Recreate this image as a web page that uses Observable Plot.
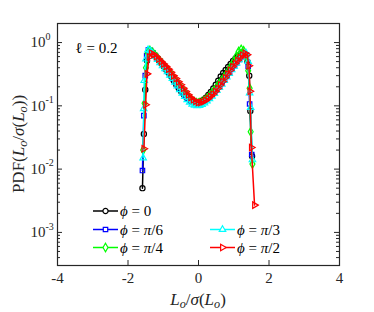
<!DOCTYPE html>
<html><head><meta charset="utf-8">
<script src="https://cdn.jsdelivr.net/npm/d3@7"></script>
<script src="https://cdn.jsdelivr.net/npm/@observablehq/plot@0.6"></script>
<style>
body{margin:0;background:#fff}
#chart{position:relative;width:374px;height:312px}
</style>
</head><body><div id="chart"></div>
<script>
// ---- data ----
const xTicks = [-4, -2, 0, 2, 4];
const yMajor = [1e-3, 1e-2, 1e-1, 1];
const yExp = ["-3", "-2", "-1", "0"];

const phi0X = [-1.59,-1.55,-1.51,-1.46,-1.40,-1.33,-1.26,-1.19,-1.12,-1.05,-0.98,-0.91,-0.84,-0.77,-0.70,-0.63,-0.56,-0.49,-0.42,-0.35,-0.28,-0.21,-0.14,-0.07,0.00,0.07,0.14,0.21,0.28,0.35,0.42,0.49,0.56,0.63,0.70,0.77,0.84,0.91,0.98,1.05,1.12,1.19,1.26,1.33,1.39,1.44,1.47,1.52];
const phi0Y = [0.005,0.036,0.18,0.52,0.72,0.70,0.64,0.58,0.52,0.47,0.42,0.37,0.33,0.29,0.25,0.215,0.19,0.168,0.152,0.138,0.127,0.119,0.114,0.112,0.113,0.118,0.125,0.135,0.148,0.165,0.188,0.215,0.25,0.29,0.33,0.37,0.41,0.46,0.51,0.56,0.61,0.66,0.69,0.64,0.5,0.3,0.083,0.016];

const phi6X = [-1.59,-1.55,-1.51,-1.47,-1.42,-1.36,-1.29,-1.22,-1.15,-1.08,-1.01,-0.94,-0.87,-0.80,-0.73,-0.66,-0.59,-0.52,-0.45,-0.38,-0.31,-0.24,-0.17,-0.10,-0.03,0.04,0.11,0.18,0.25,0.32,0.39,0.46,0.53,0.60,0.67,0.74,0.81,0.88,0.95,1.02,1.09,1.16,1.23,1.30,1.36,1.41,1.45,1.51];
const phi6Y = [0.0095,0.07,0.30,0.62,0.77,0.75,0.68,0.61,0.55,0.49,0.44,0.39,0.35,0.31,0.27,0.24,0.21,0.185,0.165,0.148,0.133,0.122,0.115,0.11,0.108,0.109,0.113,0.12,0.128,0.14,0.153,0.17,0.19,0.21,0.235,0.265,0.30,0.34,0.38,0.43,0.48,0.54,0.60,0.66,0.64,0.42,0.107,0.017];

const phi4X = [-1.57,-1.53,-1.49,-1.44,-1.38,-1.31,-1.24,-1.17,-1.10,-1.03,-0.96,-0.89,-0.82,-0.75,-0.68,-0.61,-0.54,-0.47,-0.40,-0.33,-0.26,-0.19,-0.12,-0.05,0.02,0.09,0.16,0.23,0.30,0.37,0.44,0.51,0.58,0.65,0.72,0.79,0.86,0.93,1.00,1.07,1.14,1.21,1.28,1.35,1.41,1.45,1.48,1.53];
const phi4Y = [0.02,0.11,0.40,0.68,0.75,0.70,0.64,0.58,0.52,0.47,0.42,0.38,0.34,0.30,0.265,0.235,0.21,0.185,0.165,0.148,0.134,0.123,0.116,0.112,0.112,0.115,0.121,0.13,0.142,0.157,0.175,0.197,0.222,0.25,0.28,0.32,0.37,0.43,0.50,0.60,0.72,0.78,0.74,0.6,0.36,0.19,0.039,0.012];

const phi3X = [-1.57,-1.555,-1.54,-1.49,-1.43,-1.37,-1.30,-1.23,-1.16,-1.09,-1.02,-0.95,-0.88,-0.81,-0.74,-0.67,-0.60,-0.53,-0.46,-0.39,-0.32,-0.25,-0.18,-0.11,-0.04,0.03,0.10,0.17,0.24,0.31,0.38,0.45,0.52,0.59,0.66,0.73,0.80,0.87,0.94,1.01,1.08,1.15,1.22,1.29,1.35,1.41,1.45,1.48,1.53];
const phi3Y = [0.015,0.09,0.25,0.55,0.77,0.74,0.67,0.60,0.54,0.48,0.43,0.385,0.345,0.305,0.27,0.235,0.205,0.18,0.158,0.14,0.125,0.114,0.106,0.102,0.1,0.101,0.105,0.111,0.119,0.129,0.141,0.156,0.174,0.195,0.22,0.25,0.284,0.325,0.37,0.42,0.475,0.535,0.595,0.65,0.68,0.5,0.16,0.094,0.014];

const phi2X = [-1.55,-1.50,-1.46,-1.40,-1.34,-1.27,-1.20,-1.13,-1.06,-0.99,-0.92,-0.85,-0.78,-0.71,-0.64,-0.57,-0.50,-0.43,-0.36,-0.29,-0.22,-0.15,-0.08,-0.01,0.06,0.13,0.20,0.27,0.34,0.41,0.48,0.55,0.62,0.69,0.76,0.83,0.90,0.97,1.04,1.11,1.18,1.25,1.32,1.38,1.43,1.46,1.50,1.59];
const phi2Y = [0.021,0.104,0.32,0.59,0.68,0.65,0.60,0.55,0.50,0.46,0.42,0.38,0.34,0.30,0.27,0.24,0.215,0.19,0.168,0.15,0.135,0.125,0.118,0.113,0.113,0.116,0.122,0.13,0.14,0.152,0.168,0.188,0.213,0.243,0.278,0.318,0.365,0.415,0.468,0.52,0.575,0.63,0.68,0.64,0.43,0.17,0.022,0.0027];

const seriesX = [phi0X, phi6X, phi4X, phi3X, phi2X];
const seriesY = [phi0Y, phi6Y, phi4Y, phi3Y, phi2Y];
const seriesDen = [null, "6", "4", "3", "2"];
const colors = ["#000000", "#0000ff", "#00ff00", "#00ffff", "#ff0000"];
const symbols = ["circle", "square", "diamond", "triangle", "triangle"];
const rotations = [0, 0, 0, 0, 90];
const radii = [2.6, 2.5, 2.6, 2.4, 2.4];

// ---- build ----
const yMinor = [-4, -3, -2, -1, 0].flatMap(e => d3.range(2, 10).map(m => m * 10 ** e)).filter(v => v > 3e-4 && v < 2);
const W = 374, H = 312, mL = 57, mR = 35, mT = 23, mB = 47;
const pw = W - mL - mR, ph = H - mT - mB;
const axisCol = "#262626";

const dataMarks = [];
seriesX.forEach((xs, i) => {
  const pts = xs.map((x, j) => ({x, y: seriesY[i][j]}));
  dataMarks.push(Plot.line(pts, {x: "x", y: "y", stroke: colors[i], strokeWidth: 1.5}));
  dataMarks.push(Plot.dot(pts, {x: "x", y: "y", symbol: symbols[i], r: radii[i], stroke: colors[i], fill: "none", strokeWidth: 1.2, rotate: rotations[i]}));
});

const plot = Plot.plot({
  width: W, height: H,
  marginLeft: mL, marginRight: mR, marginTop: mT, marginBottom: mB,
  style: {fontFamily: "'Liberation Serif', serif", fontSize: "15px", color: axisCol, background: "white"},
  x: {domain: [-4, 4], label: null, axis: null},
  y: {type: "log", domain: [3e-4, 2], label: null, axis: null},
  marks: [
    ...dataMarks,
    Plot.frame({stroke: axisCol, strokeWidth: 1.2}),
    Plot.tickX(xTicks, {x: d => d, stroke: axisCol, insetTop: ph - 5}),
    Plot.tickX(xTicks, {x: d => d, stroke: axisCol, insetBottom: ph - 5}),
    Plot.tickY(yMajor, {y: d => d, stroke: axisCol, insetRight: pw - 5}),
    Plot.tickY(yMajor, {y: d => d, stroke: axisCol, insetLeft: pw - 5}),
    Plot.tickY(yMinor, {y: d => d, stroke: axisCol, insetRight: pw - 3}),
    Plot.tickY(yMinor, {y: d => d, stroke: axisCol, insetLeft: pw - 3}),
    Plot.text(xTicks, {x: d => d, frameAnchor: "bottom", text: d => (d < 0 ? "-" + (-d) : String(d)), dy: 17, fill: axisCol, fontSize: 15}),
    Plot.text(yMajor, {y: d => d, frameAnchor: "left", text: () => "10", textAnchor: "end", dx: -12, fill: axisCol, fontSize: 15}),
    Plot.text(yMajor, {y: d => d, frameAnchor: "left", text: (d, i) => yExp[i], textAnchor: "start", dx: -12, dy: -6, fill: axisCol, fontSize: 10}),
    Plot.text(["ℓ = 0.2"], {frameAnchor: "top-left", text: d => d, textAnchor: "start", dx: 18, dy: 19, fill: "#000", fontSize: 15})
  ]
});

const svg = d3.select(plot);
function mathText(parent, parts) {
  parts.forEach(([t, opt]) => {
    const ts = parent.append("tspan").text(t);
    if (opt && opt.i) ts.attr("font-style", "italic");
    if (opt && opt.sub) ts.attr("font-size", "0.72em").attr("dy", "0.25em");
    if (opt && opt.up) ts.attr("dy", "-0.18em");
  });
}
const labParts = [["L", {i: 1}], ["o", {i: 1, sub: 1}], ["/", {up: 1}], ["σ", {i: 1}], ["(", {}], ["L", {i: 1}], ["o", {i: 1, sub: 1}], [")", {up: 1}]];
// x label
const xl = svg.append("text").attr("x", mL + pw / 2).attr("y", 305).attr("text-anchor", "middle")
  .attr("font-size", 17).attr("fill", axisCol);
mathText(xl, labParts);
// y label
const yl = svg.append("text").attr("transform", `translate(24,${mT + ph / 2}) rotate(-90)`).attr("text-anchor", "middle")
  .attr("font-size", 17).attr("fill", axisCol);
mathText(yl, [["PDF(", {}], ...labParts, [")", {}]]);

// legend
const legRows = [211, 229.5, 247.5];
const legPos = [[0, 0], [0, 1], [0, 2], [1, 1], [1, 2]];
const legColX = [[93, 118, 120], [210, 235, 237]];
const lg = svg.append("g").attr("text-anchor", "start");
legPos.forEach(([c, r], i) => {
  const [x1, x2, tx] = legColX[c];
  const y = legRows[r];
  lg.append("line").attr("x1", x1).attr("x2", x2).attr("y1", y).attr("y2", y).attr("stroke", colors[i]).attr("stroke-width", 1.5);
  const symType = {circle: d3.symbolCircle, square: d3.symbolSquare, diamond: d3.symbolDiamond, triangle: d3.symbolTriangle}[symbols[i]];
  lg.append("path").attr("d", d3.symbol(symType, radii[i] * radii[i] * Math.PI)())
    .attr("transform", `translate(${(x1 + x2) / 2},${y}) rotate(${rotations[i]})`)
    .attr("fill", "white").attr("stroke", colors[i]).attr("stroke-width", 1.2);
  const t = lg.append("text").attr("x", tx).attr("y", y + 5).attr("text-anchor", "start").attr("font-size", 15).attr("fill", "#000");
  const parts = [["ϕ", {i: 1}], [" = ", {}]];
  if (seriesDen[i] === null) parts.push(["0", {}]);
  else parts.push(["π", {i: 1}], ["/" + seriesDen[i], {}]);
  mathText(t, parts);
});

document.getElementById("chart").appendChild(plot);
</script>
</body></html>
